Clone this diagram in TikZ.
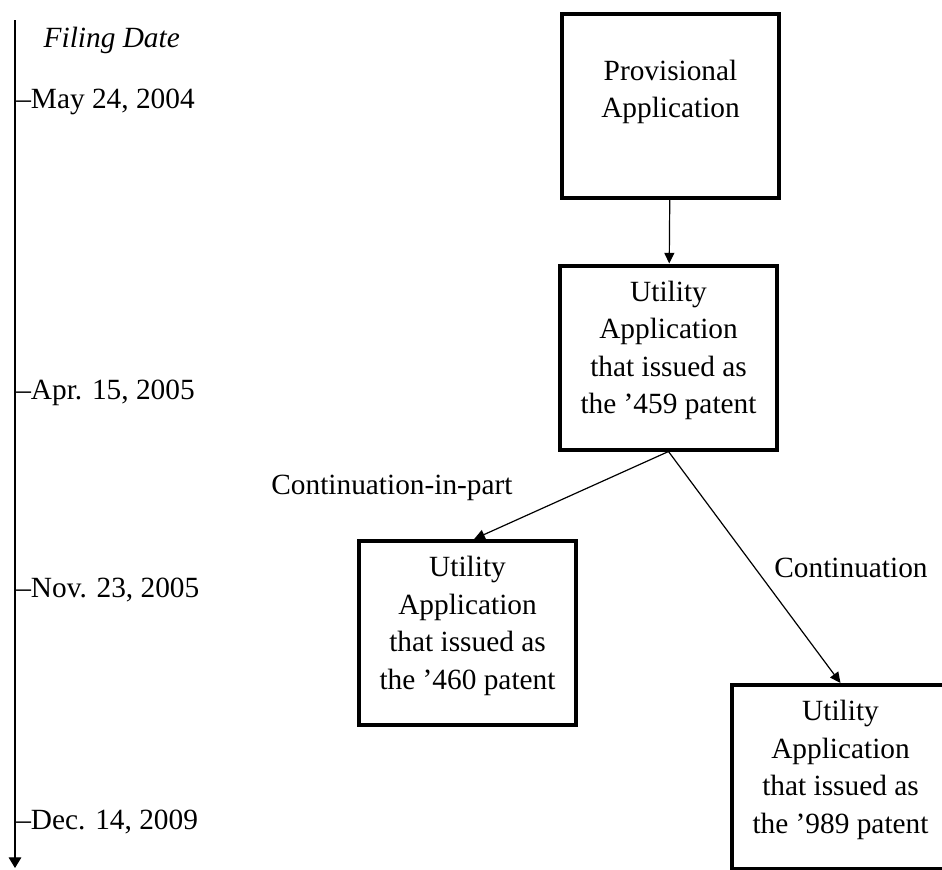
\documentclass[tikz,border=0pt]{standalone}
\usepackage{fontspec}
\setmainfont{Liberation Serif}
\usetikzlibrary{arrows.meta}

\begin{document}
\begin{tikzpicture}[x=0.75pt,y=-0.75pt,
  every node/.style={align=center,font=\fontsize{22}{28.2}\selectfont},
  appbox/.style={draw,line width=3pt,minimum width=163pt,minimum height=138pt,inner sep=0pt,text depth=15.3pt},
  link/.style={line width=0.9pt,-{Triangle[length=8pt,width=7.5pt]}}]
  \useasboundingbox (0,0) rectangle (942,869);
  \clip (0,0) rectangle (942,869);
  % Time axis down the left edge.
  \coordinate (axtop) at (15,20);
  \coordinate (axend) at (15,868);
  \draw[link,-{Triangle[length=8pt,width=9.5pt]}] (axtop) -- (axend);
  \node[anchor=west,font=\itshape\fontsize{22}{28.2}\selectfont] (axtitle) at (39,40) {Filing Date};
  % Filing dates, each starting with its tick.
  \node[anchor=west,inner sep=0pt] (d2004) at (16,102) {--May 24, 2004};
  \node[anchor=west,inner sep=0pt] (d2005a) at (16,393) {--Apr. 15, 2005};
  \node[anchor=west,inner sep=0pt] (d2005b) at (16,590) {--Nov. 23, 2005};
  \node[anchor=west,inner sep=0pt] (d2009) at (16,822) {--Dec. 14, 2009};
  % The applications; the last one runs off the page.
  \node[appbox,text depth=25.8pt] (prov) at (670.5,106) {Provisional\\Application};
  \node[appbox] (util459) at (668.5,357.5) {Utility\\Application\\that issued as\\the ’459 patent};
  \node[appbox] (util460) at (467.5,633) {Utility\\Application\\that issued as\\the ’460 patent};
  \node[appbox] (util989) at (840.5,777) {Utility\\Application\\that issued as\\the ’989 patent};
  % Links between them.
  \draw[link] (prov) -- (util459);
  \draw[link] (util459.south) -- ([xshift=5pt]util460.north);
  \draw[link] (util459.south) -- (util989.north);
  \node (cip) at (392,488) {Continuation-in-part};
  \node (cont) at (851,568) {Continuation};
\end{tikzpicture}
\end{document}
